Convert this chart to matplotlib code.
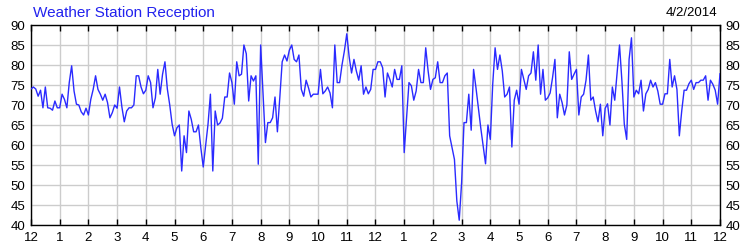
import numpy as np
import matplotlib
matplotlib.use("Agg")
import matplotlib.pyplot as plt

plt.rcParams['font.family'] = ['Liberation Sans', 'DejaVu Sans']

# signal readings, one every 5 minutes, one row per hour (midnight .. midnight)
hour00 = [74, 74.5, 74, 72.2, 73.7, 69.3, 74.5, 69.3, 69.2, 68.7, 71, 69.3]
hour01 = [69.3, 72.7, 71.4, 69.3, 75.6, 79.8, 73.5, 70.2, 70, 68.3, 67.5, 69.2]
hour02 = [67.5, 71.4, 73.9, 77.3, 73.9, 72.7, 71.2, 72.7, 70.6, 66.8, 68.1, 70]
hour03 = [69.2, 74.5, 69.5, 65.8, 68.5, 69.3, 69.3, 70, 77.3, 77.3, 74.5, 72.8]
hour04 = [73.7, 77.3, 75.6, 69.3, 71.8, 78.9, 72.7, 77.7, 80.8, 74, 70, 65.2]
hour05 = [62.3, 64.3, 65, 53.5, 62.3, 58.1, 68.5, 66.4, 63.3, 63.3, 65, 59.3]
hour06 = [54.5, 59.8, 65.2, 72.7, 53.5, 68.5, 65, 65.5, 66.7, 72, 72, 78]
hour07 = [75.6, 70.2, 80.8, 77.3, 77.7, 85, 82.8, 71, 77.3, 76, 77.3, 55.2]
hour08 = [85, 72.7, 60.6, 65.6, 65.6, 66.8, 72, 63.3, 71.8, 80.8, 82.5, 81]
hour09 = [83.7, 85, 81.4, 80.8, 82.5, 73.9, 72.2, 76.2, 74.3, 72, 72.7, 72.7]
hour10 = [72.7, 78.9, 72.8, 73.5, 74.5, 73, 69.3, 85, 75.6, 75.6, 80, 83.5]
hour11 = [87.8, 82, 78, 81.4, 78.5, 76.2, 79.8, 72.7, 74.5, 72.8, 73.9, 78.9]
hour12 = [78.9, 80.8, 80.8, 79.3, 72, 78, 76.4, 74.5, 78.9, 76.4, 76.4, 79.8]
hour13 = [58.1, 66.8, 75.6, 74.8, 71.2, 73.5, 78.9, 75.6, 75.6, 84.3, 78.5, 73.9]
hour14 = [76.4, 76.8, 80.8, 75.6, 75.6, 77.3, 78, 62.3, 59.3, 56.4, 46, 41.2]
hour15 = [50.6, 65.6, 65.6, 72.7, 63.7, 78.9, 74.3, 69.3, 64.3, 59.8, 55.3, 65]
hour16 = [61.4, 75.2, 84.3, 78.9, 82.5, 78.5, 72, 72.7, 74.5, 59.5, 71.2, 73.7]
hour17 = [70.2, 78.9, 76.4, 73.9, 77.3, 78, 83.3, 76.2, 85, 72.7, 78.9, 71.2]
hour18 = [71.8, 73, 76.8, 81.4, 66.8, 72.7, 70.6, 67.5, 70, 83.3, 76.4, 77.7]
hour19 = [78.9, 67.5, 72, 72.7, 76.2, 82.5, 71.2, 72, 68.5, 65.8, 70.2, 62.3]
hour20 = [69.2, 70.3, 65, 74.5, 71.2, 78, 85, 76, 65.2, 61.4, 81.4, 86.8]
hour21 = [72, 73.7, 72.8, 76.2, 68.5, 72.8, 73.9, 76.2, 74.5, 75.6, 73.5, 70.2]
hour22 = [70.2, 72.8, 72.8, 81.4, 74.5, 77.3, 73.9, 62.3, 68.5, 73.7, 73.7, 75.3]
hour23 = [76.2, 73.9, 75.6, 75.6, 76.2, 76.2, 77.3, 71.2, 76.2, 75.2, 73.7, 70.2]
last = [77.8]

hours = [hour00, hour01, hour02, hour03, hour04, hour05, hour06, hour07,
         hour08, hour09, hour10, hour11, hour12, hour13, hour14, hour15,
         hour16, hour17, hour18, hour19, hour20, hour21, hour22, hour23, last]
reception = [v for h in hours for v in h]
minutes = np.arange(len(reception)) * 5

tick_labels = ['12', '1', '2', '3', '4', '5', '6', '7', '8', '9', '10', '11',
               '12', '1', '2', '3', '4', '5', '6', '7', '8', '9', '10', '11', '12']
y_ticks = [40, 45, 50, 55, 60, 65, 70, 75, 80, 85, 90]

fig = plt.figure(figsize=(7.5, 2.5), dpi=100)
ax = fig.add_axes([0.0413, 0.1, 0.9187, 0.8])

ax.plot(minutes / 60.0, reception, color='#2a2aff', lw=1.0, zorder=3)

ax.set_xlim(0, 24)
ax.set_ylim(40, 90)
ax.set_xticks(range(25))
ax.set_xticklabels(tick_labels)
ax.set_yticks(y_ticks)
ax.grid(True, color='#cccccc', lw=1.0, zorder=0)
ax.set_axisbelow(True)

ax.tick_params(axis='x', direction='in', length=4, width=1, top=True,
               labelsize=9.5, pad=5, colors='black')
ax.tick_params(axis='y', length=0, left=True, right=True, labelleft=True,
               labelright=True, labelsize=9.5, pad=4)
for s in ax.spines.values():
    s.set_color('black')
    s.set_linewidth(1.0)

fig.text(0.044, 0.95, 'Weather Station Reception', color='#2222ee',
         fontsize=11, ha='left', va='center')
fig.text(0.957, 0.95, '4/2/2014', color='black', fontsize=9.5,
         ha='right', va='center')

fig.savefig('out.png', dpi=100)
